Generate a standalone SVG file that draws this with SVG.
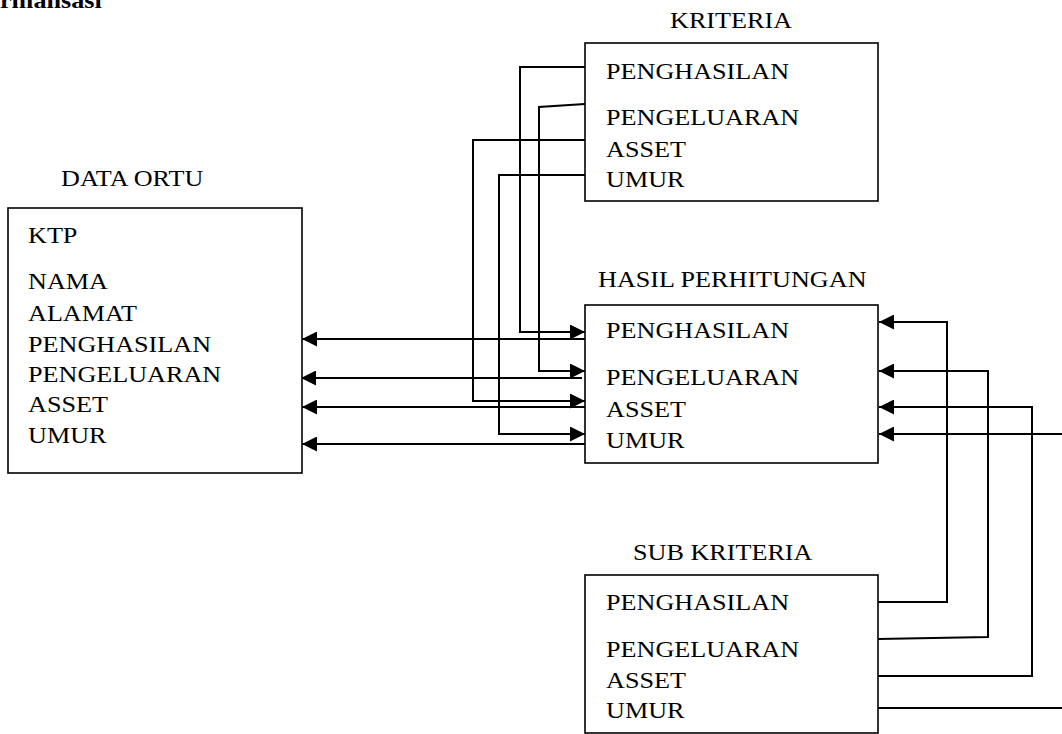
<svg xmlns="http://www.w3.org/2000/svg" width="1062" height="734" viewBox="0 0 1062 734">
<style>
.t{font-family:"Liberation Serif","Times New Roman",serif;font-size:24px;fill:#000}
.b{font-weight:bold}
.box{fill:#fff;stroke:#000;stroke-width:1.6}
.c{fill:none;stroke:#000;stroke-width:2}
</style>
<defs>
<marker id="ah" markerWidth="15" markerHeight="15" refX="15" refY="7.5" orient="auto" markerUnits="userSpaceOnUse">
<path d="M0,0 L15,7.5 L0,15 z" fill="#000"/>
</marker>
</defs>
<rect width="1062" height="734" fill="#fff"/>
<text class="t b" transform="translate(0,8) scale(1.09,1)">rmansasi</text>

<g id="connectors">
<!-- HASIL -> DATA ORTU -->
<path class="c" d="M585,339 H302" marker-end="url(#ah)"/>
<path class="c" d="M582,378 H301" marker-end="url(#ah)"/>
<path class="c" d="M585,407 H302" marker-end="url(#ah)"/>
<path class="c" d="M585,444 H302" marker-end="url(#ah)"/>
<!-- KRITERIA -> HASIL -->
<path class="c" d="M585,67 H520 V332 H585" marker-end="url(#ah)"/>
<path class="c" d="M585,104 L539,107 V371 H585" marker-end="url(#ah)"/>
<path class="c" d="M585,140 H473 V401 H585" marker-end="url(#ah)"/>
<path class="c" d="M585,175 H499 V434 H585" marker-end="url(#ah)"/>
<!-- SUB KRITERIA -> HASIL -->
<path class="c" d="M878,602 H947 V322 H879" marker-end="url(#ah)"/>
<path class="c" d="M878,639 L988,637 V371 H879" marker-end="url(#ah)"/>
<path class="c" d="M878,676 H1032 V407 H879" marker-end="url(#ah)"/>
<path class="c" d="M1062,434 H879" marker-end="url(#ah)"/>
<path class="c" d="M878,708 H1062"/>
</g>

<g id="data-ortu">
<text class="t" transform="translate(61,186) scale(1.09,1)">DATA ORTU</text>
<rect class="box" x="8" y="208" width="294" height="265"/>
<text class="t" transform="translate(28,243) scale(1.09,1)">KTP</text>
<text class="t" transform="translate(28,289) scale(1.09,1)">NAMA</text>
<text class="t" transform="translate(28,321) scale(1.09,1)">ALAMAT</text>
<text class="t" transform="translate(28,352) scale(1.09,1)">PENGHASILAN</text>
<text class="t" transform="translate(28,382) scale(1.09,1)">PENGELUARAN</text>
<text class="t" transform="translate(28,412) scale(1.09,1)">ASSET</text>
<text class="t" transform="translate(28,443) scale(1.09,1)">UMUR</text>
</g>

<g id="kriteria">
<text class="t" transform="translate(670,28) scale(1.09,1)">KRITERIA</text>
<rect class="box" x="585" y="43" width="293" height="158"/>
<text class="t" transform="translate(606,79) scale(1.09,1)">PENGHASILAN</text>
<text class="t" transform="translate(606,125) scale(1.09,1)">PENGELUARAN</text>
<text class="t" transform="translate(606,157) scale(1.09,1)">ASSET</text>
<text class="t" transform="translate(606,187) scale(1.09,1)">UMUR</text>
</g>

<g id="hasil-perhitungan">
<text class="t" transform="translate(598,287) scale(1.09,1)">HASIL PERHITUNGAN</text>
<rect class="box" x="585" y="305" width="293" height="158"/>
<text class="t" transform="translate(606,338) scale(1.09,1)">PENGHASILAN</text>
<text class="t" transform="translate(606,385) scale(1.09,1)">PENGELUARAN</text>
<text class="t" transform="translate(606,417) scale(1.09,1)">ASSET</text>
<text class="t" transform="translate(606,448) scale(1.09,1)">UMUR</text>
</g>

<g id="sub-kriteria">
<text class="t" transform="translate(633,560) scale(1.09,1)">SUB KRITERIA</text>
<rect class="box" x="585" y="575" width="293" height="158"/>
<text class="t" transform="translate(606,610) scale(1.09,1)">PENGHASILAN</text>
<text class="t" transform="translate(606,657) scale(1.09,1)">PENGELUARAN</text>
<text class="t" transform="translate(606,688) scale(1.09,1)">ASSET</text>
<text class="t" transform="translate(606,718) scale(1.09,1)">UMUR</text>
</g>
</svg>
